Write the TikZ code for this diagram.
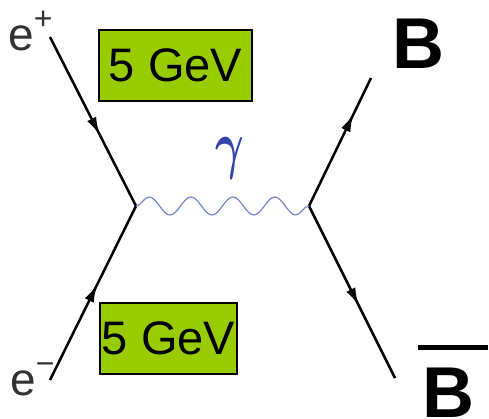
\documentclass[tikz,border=0pt]{standalone}
\usepackage{fontspec}
\setmainfont{Liberation Sans}
\usepackage{bm}
\usepackage{tikz}
\usetikzlibrary{arrows.meta,decorations.markings,decorations.pathmorphing}
\usepackage{xcolor}
\definecolor{gevgreen}{HTML}{99CC00}
\definecolor{photonblue}{HTML}{7784D0}
\definecolor{gammablue}{HTML}{3344AA}
\definecolor{lepgray}{HTML}{333333}
\newcommand{\chargeup}[1]{\raisebox{21pt}{\fontsize{32}{32}\selectfont #1}}

\begin{document}
\begin{tikzpicture}[x=1pt,y=-1pt,
  fermion/.style={draw,line width=2.5pt,postaction={decorate},
    decoration={markings,mark=at position #1 with {\arrow{Latex[length=18pt,width=10pt]}}}},
  photon/.style={draw=photonblue,line width=1.2pt,decorate,
    decoration={snake,amplitude=9pt,segment length=41.9pt}},
  gevbox/.style={draw,line width=1.5pt,fill=gevgreen,inner sep=0pt,
    minimum height=71pt,font=\fontsize{47}{47}\selectfont},
  lepton/.style={anchor=base west,inner sep=0pt,text=lepgray,font=\fontsize{46}{46}\selectfont},
  meson/.style={anchor=base west,inner sep=0pt,font=\fontsize{72}{72}\selectfont\bfseries}]
\useasboundingbox (0,0) rectangle (489,418);
% vertices and ends of the lines
\coordinate (vl) at (136,206);
\coordinate (vr) at (309,206);
\coordinate (ep) at (50,37);
\coordinate (em) at (50,380);
\coordinate (bq) at (371,78);
\coordinate (bb) at (395,378);
% labels
\node[lepton] (eplus) at (8,50) {e\chargeup{+}};
\node[lepton] (eminus) at (10,395) {e\chargeup{−}};
\node[meson] (bmeson) at (392,68) {B};
\node[meson] (bbar) at (422,417) {B};
\node[inner sep=0pt,text=gammablue] (gam) at (230,158.5) {\scalebox{4.4}[6.5]{$\bm{\gamma}$}};
\node[gevbox,minimum width=153pt] (gevtop) at (175.5,65.5) {5 GeV};
\node[gevbox,minimum width=137pt] (gevbot) at (168.5,338.5) {5 GeV};
% lines
\draw[fermion=0.58] (ep) -- (vl);
\draw[fermion=0.55] (em) -- (vl);
\draw[fermion=0.72] (vr) -- (bq);
\draw[fermion=0.58] (vr) -- (bb);
\draw[photon] (vl) -- (vr);
\draw[line width=5pt] (418,347) -- (488,347);
\end{tikzpicture}
\end{document}
